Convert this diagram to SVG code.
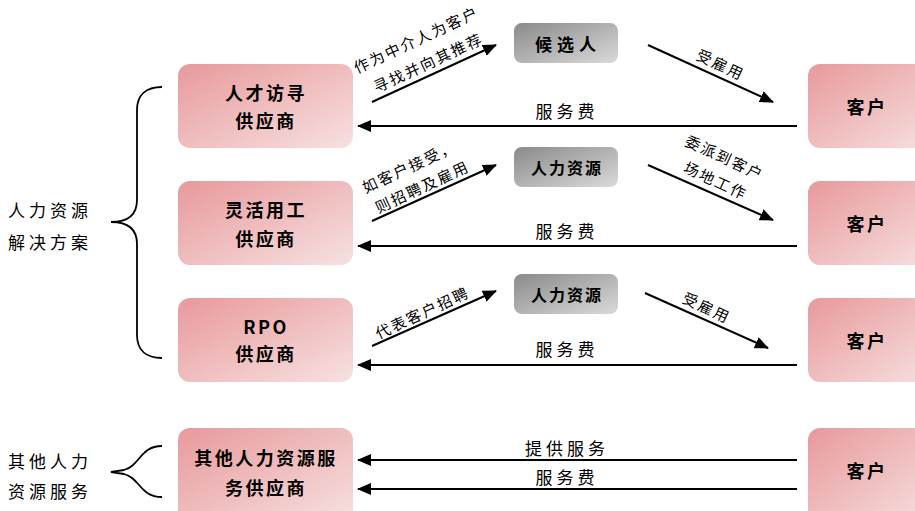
<svg xmlns="http://www.w3.org/2000/svg" width="915" height="511" viewBox="0 0 915 511">
<defs>
<linearGradient id="pink" x1="0" y1="0" x2="1" y2="1">
<stop offset="0" stop-color="#e8999b"/>
<stop offset="1" stop-color="#f7e1e1"/>
</linearGradient>
<linearGradient id="gray" x1="0" y1="0" x2="1" y2="1">
<stop offset="0" stop-color="#8a8a8a"/>
<stop offset="1" stop-color="#dadada"/>
</linearGradient>
<marker id="ah" markerUnits="userSpaceOnUse" markerWidth="14" markerHeight="12" refX="13" refY="6" orient="auto">
<path d="M0,0 L14,6 L0,12 Z" fill="#000"/>
</marker>
<style>
.pk{fill:url(#pink)}
.gy{fill:url(#gray)}
.bt{font-family:"Noto Sans CJK SC","Liberation Sans",sans-serif;font-weight:bold;font-size:18px;text-anchor:middle;dominant-baseline:central;fill:#000;letter-spacing:2.5px}
.gt{font-family:"Noto Sans CJK SC","Liberation Sans",sans-serif;font-weight:bold;font-size:16px;text-anchor:middle;dominant-baseline:central;fill:#000;letter-spacing:2px}
.lb{font-family:"Noto Sans CJK SC","Liberation Sans",sans-serif;font-size:15px;text-anchor:middle;dominant-baseline:central;fill:#000;letter-spacing:2px}
.fee{font-family:"Noto Sans CJK SC","Liberation Sans",sans-serif;font-size:17px;text-anchor:middle;dominant-baseline:central;fill:#000;letter-spacing:4px}
.sd{font-family:"Noto Sans CJK SC","Liberation Sans",sans-serif;font-size:17px;dominant-baseline:central;fill:#000;letter-spacing:4px}
.ln{stroke:#000;stroke-width:2;fill:none}
.br{stroke:#000;stroke-width:1.8;fill:none}
</style>
</defs>

<g id="side-labels">
<text class="sd" x="8" y="209">人力资源</text>
<text class="sd" x="8" y="241">解决方案</text>
<text class="sd" x="8" y="460">其他人力</text>
<text class="sd" x="8" y="490">资源服务</text>
<path class="br" d="M162,87 C146,87 137,95 137,110 L137,200 C137,215 128,222 111,222 C128,222 137,229 137,244 L137,335 C137,350 146,358 162,358"/>
<path class="br" d="M162,446 C140,446 140,466 124,470 L111,472 L124,474 C140,478 140,497 162,497"/>
</g>

<g id="n-headhunt"><rect class="pk" x="178" y="64" width="175" height="84" rx="12"/><text class="bt" x="266" y="92">人才访寻</text><text class="bt" x="266" y="120">供应商</text></g>
<g id="n-flex"><rect class="pk" x="178" y="181" width="175" height="84" rx="12"/><text class="bt" x="266" y="209">灵活用工</text><text class="bt" x="266" y="238">供应商</text></g>
<g id="n-rpo"><rect class="pk" x="178" y="298" width="175" height="84" rx="12"/><text class="bt" x="266" y="326">RPO</text><text class="bt" x="266" y="353">供应商</text></g>
<g id="n-other"><rect class="pk" x="178" y="428" width="175" height="95" rx="12"/><text class="bt" x="266" y="457">其他人力资源服</text><text class="bt" x="266" y="487">务供应商</text></g>

<g id="n-cand"><rect class="gy" x="514" y="23" width="104" height="40" rx="8"/><text class="gt" x="568" y="43" style="letter-spacing:5px;font-size:17px">候选人</text></g>
<g id="n-hr1"><rect class="gy" x="514" y="147" width="104" height="40" rx="8"/><text class="gt" x="567" y="167">人力资源</text></g>
<g id="n-hr2"><rect class="gy" x="514" y="274" width="104" height="40" rx="8"/><text class="gt" x="567" y="294">人力资源</text></g>

<g id="n-c1"><rect class="pk" x="808" y="64" width="130" height="84" rx="12"/><text class="bt" x="867" y="106">客户</text></g>
<g id="n-c2"><rect class="pk" x="808" y="181" width="130" height="84" rx="12"/><text class="bt" x="867" y="223">客户</text></g>
<g id="n-c3"><rect class="pk" x="808" y="298" width="130" height="84" rx="12"/><text class="bt" x="867" y="340">客户</text></g>
<g id="n-c4"><rect class="pk" x="808" y="428" width="130" height="95" rx="12"/><text class="bt" x="867" y="470">客户</text></g>

<g id="connectors">
<line class="ln" x1="372" y1="102" x2="496" y2="45" marker-end="url(#ah)"/>
<line class="ln" x1="648" y1="45" x2="773" y2="102" marker-end="url(#ah)"/>
<line class="ln" x1="797" y1="126" x2="358" y2="126" marker-end="url(#ah)"/>
<line class="ln" x1="372" y1="221" x2="496" y2="165" marker-end="url(#ah)"/>
<line class="ln" x1="648" y1="165" x2="773" y2="220" marker-end="url(#ah)"/>
<line class="ln" x1="797" y1="246" x2="358" y2="246" marker-end="url(#ah)"/>
<line class="ln" x1="372" y1="346" x2="496" y2="291" marker-end="url(#ah)"/>
<line class="ln" x1="645" y1="293" x2="768" y2="348" marker-end="url(#ah)"/>
<line class="ln" x1="797" y1="365" x2="358" y2="365" marker-end="url(#ah)"/>
<line class="ln" x1="797" y1="460" x2="358" y2="460" marker-end="url(#ah)"/>
<line class="ln" x1="797" y1="489" x2="358" y2="489" marker-end="url(#ah)"/>

<text class="lb" transform="translate(416,39) rotate(-25)">作为中介人为客户</text>
<text class="lb" transform="translate(428,62) rotate(-25)">寻找并向其推荐</text>
<text class="lb" transform="translate(721,64) rotate(25)">受雇用</text>
<text class="fee" x="567" y="110">服务费</text>
<text class="lb" transform="translate(409,166) rotate(-25)">如客户接受，</text>
<text class="lb" transform="translate(422,186) rotate(-25)">则招聘及雇用</text>
<text class="lb" transform="translate(725,157) rotate(25)">委派到客户</text>
<text class="lb" transform="translate(716,180) rotate(25)">场地工作</text>
<text class="fee" x="567" y="230">服务费</text>
<text class="lb" transform="translate(422,312) rotate(-25)">代表客户招聘</text>
<text class="lb" transform="translate(707,307) rotate(25)">受雇用</text>
<text class="fee" x="567" y="348">服务费</text>
<text class="fee" x="567" y="447">提供服务</text>
<text class="fee" x="567" y="476">服务费</text>
</g>
</svg>
